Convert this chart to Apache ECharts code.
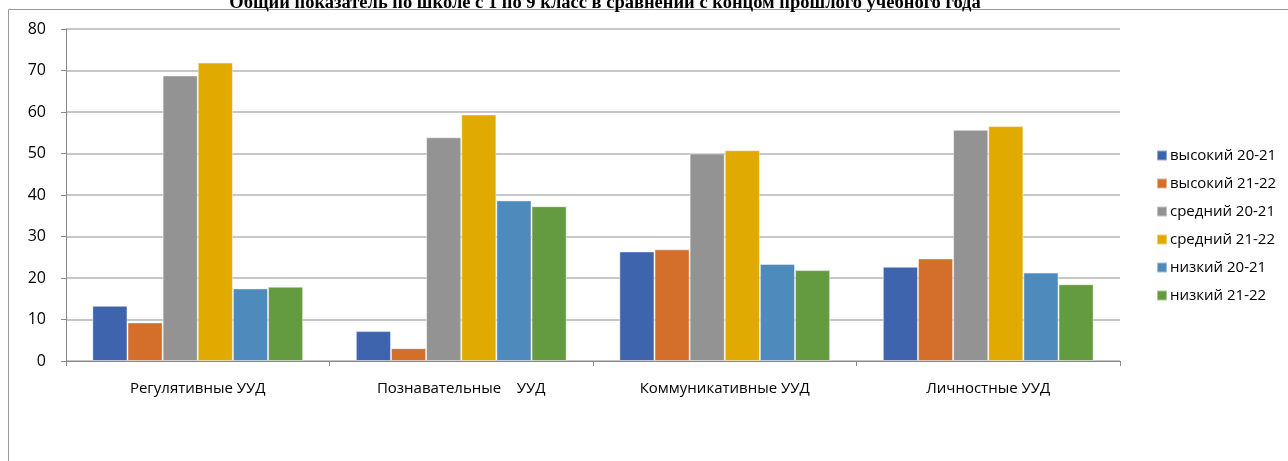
<!DOCTYPE html>
<html>
<head>
<meta charset="utf-8">
<script src="https://cdn.jsdelivr.net/npm/echarts@6/dist/echarts.min.js"></script>
<style>
  html, body { margin: 0; padding: 0; background: #fff; }
  #chart { width: 1288px; height: 461px; }
</style>
</head>
<body>
<div id="chart"></div>
<script>
// данные диаграммы
const titleText = 'Общий показатель по школе с 1 по 9 класс в сравнении с концом прошлого учебного года';
const categories = ['Регулятивные УУД', 'Познавательные    УУД', 'Коммуникативные УУД', 'Личностные УУД'];
const seriesNames = ['высокий 20-21', 'высокий 21-22', 'средний 20-21', 'средний 21-22', 'низкий 20-21', 'низкий 21-22'];
const high2021 = [13.3, 7.2, 26.4, 22.7];
const high2122 = [9.3, 3.1, 26.9, 24.7];
const mid2021 = [68.8, 53.9, 50, 55.7];
const mid2122 = [71.9, 59.4, 50.8, 56.6];
const low2021 = [17.5, 38.7, 23.4, 21.3];
const low2122 = [17.9, 37.3, 21.9, 18.5];
const yTicks = [0, 10, 20, 30, 40, 50, 60, 70, 80];

const colors = ['#3d64ad', '#d36f2b', '#939393', '#e1aa00', '#4f8abd', '#659b40'];
const values = [high2021, high2122, mid2021, mid2122, low2021, low2122];

const chart = echarts.init(document.getElementById('chart'));
chart.setOption({
  animation: false,
  title: {
    text: titleText,
    left: 600,
    textAlign: 'center',
    top: -11,
    textStyle: { fontFamily: 'Liberation Serif', fontSize: 18.5, fontWeight: 'bold', color: '#000' }
  },
  graphic: [{
    type: 'rect',
    shape: { x: 8.5, y: 9.5, width: 1300, height: 500 },
    style: { fill: 'none', stroke: '#9a9a9a', lineWidth: 1 },
    silent: true
  }],
  grid: { left: 66, right: 168, top: 29, bottom: 100 },
  legend: {
    orient: 'vertical',
    left: 1151,
    top: 143,
    itemWidth: 10,
    itemHeight: 10,
    itemGap: 13,
    icon: 'rect',
    textStyle: { fontFamily: 'Open Sans, sans-serif', fontSize: 15, color: '#000', padding: [0, 0, 0, -2] },
    data: seriesNames
  },
  xAxis: {
    type: 'category',
    data: categories,
    axisLine: { lineStyle: { color: '#888', width: 1 } },
    axisTick: { show: true, length: 5, lineStyle: { color: '#888' } },
    axisLabel: { margin: 20, fontFamily: 'Liberation Sans Narrow, Open Sans, sans-serif', fontSize: 15, color: '#000' }
  },
  yAxis: {
    type: 'value',
    min: yTicks[0],
    max: yTicks[yTicks.length - 1],
    interval: 10,
    axisLine: { show: true, lineStyle: { color: '#888', width: 1 } },
    axisTick: { show: true, length: 5, lineStyle: { color: '#888' } },
    axisLabel: { margin: 20, fontFamily: 'Open Sans, sans-serif', fontSize: 16, color: '#000' },
    splitLine: { lineStyle: { color: '#b4b4b4', width: 1.5 } }
  },
  series: seriesNames.map((name, i) => ({
    name: name,
    type: 'bar',
    data: values[i],
    barGap: '0%',
    barCategoryGap: '20%',
    itemStyle: { color: colors[i], borderColor: 'rgba(255,255,255,0.45)', borderWidth: 1 }
  }))
});
</script>
</body>
</html>
